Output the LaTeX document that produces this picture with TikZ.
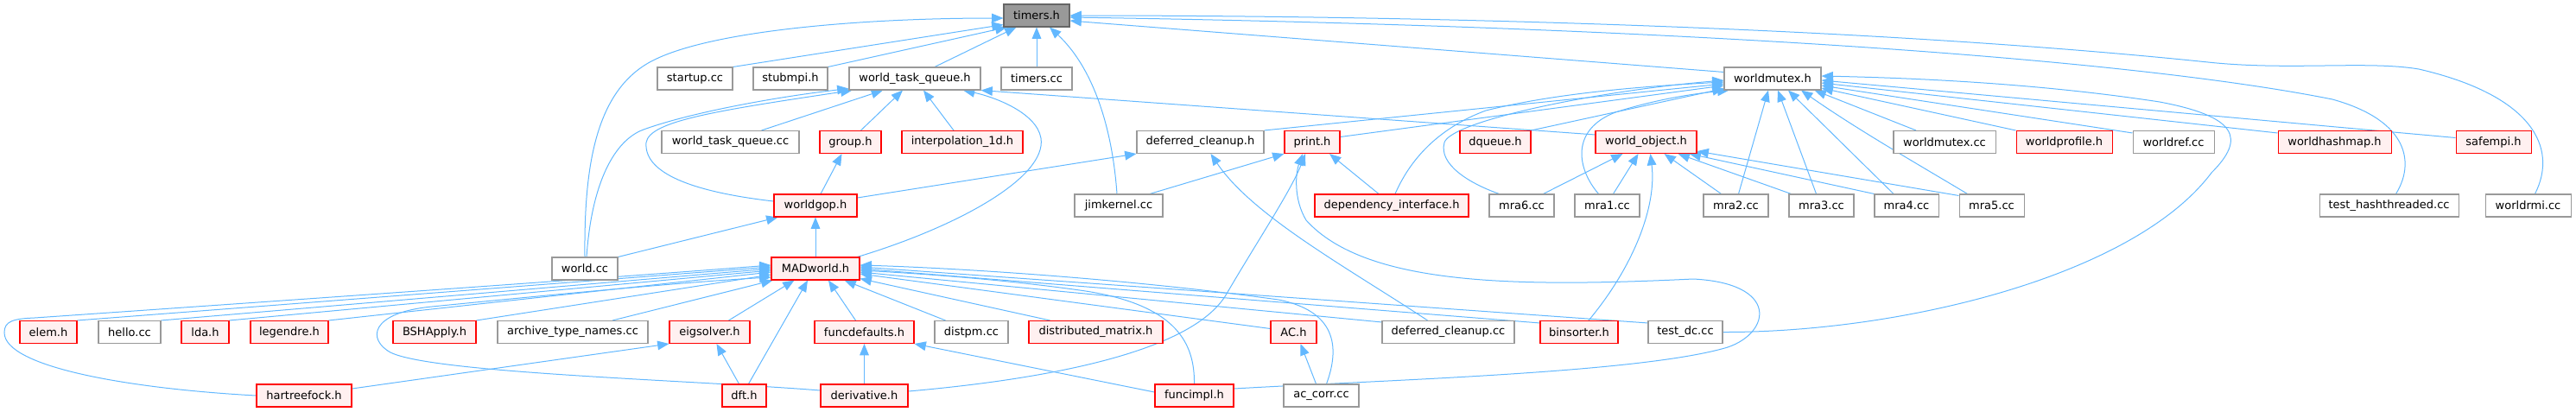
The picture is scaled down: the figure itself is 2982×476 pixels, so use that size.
\documentclass[tikz,border=0pt]{standalone}
\usepackage{fontspec}
\setmainfont{DejaVu Sans}
\usetikzlibrary{arrows.meta,calc,backgrounds}
\definecolor{edgec}{HTML}{63B8FF}
\definecolor{grayb}{HTML}{999999}
\definecolor{rootb}{HTML}{666666}
\definecolor{redfill}{HTML}{FFF0F0}
\tikzset{
  box/.style={draw=grayb, fill=white, line width=0.8pt, minimum height=19.5pt, inner sep=0pt,
    font=\fontsize{9.75}{11}\selectfont, text=black},
  rbox/.style={box, draw=red, fill=redfill},
  root/.style={box, draw=rootb, fill=grayb},
  w/.style={minimum width=#1*0.75pt},
  dep/.style={draw=edgec, line width=0.75pt, -{Triangle[length=10pt,width=8pt]}}
}
\begin{document}
\begin{tikzpicture}[x=0.75pt,y=-0.75pt]
\useasboundingbox (0,0) rectangle (2982,476);
% row 0
\node[root,w=76] (timers) at (1200,18) {timers.h};
% row 1
\node[box,w=87] (startup) at (804.5,91) {startup.cc};
\node[box,w=86] (stubmpi) at (915,91) {stubmpi.h};
\node[box,w=152] (wtqh) at (1059,91) {world\_task\_queue.h};
\node[box,w=82] (timerscc) at (1200,91) {timers.cc};
\node[box,w=112] (wmutexh) at (2052,91) {worldmutex.h};
% row 2
\node[box,w=159] (wtqcc) at (845.5,164.5) {world\_task\_queue.cc};
\node[rbox,w=71] (group) at (984.5,164.5) {group.h};
\node[rbox,w=140] (interp) at (1114,164.5) {interpolation\_1d.h};
\node[box,w=147] (defch) at (1389.5,164.5) {deferred\_cleanup.h};
\node[rbox,w=64] (print) at (1519,164.5) {print.h};
\node[rbox,w=82] (dqueue) at (1731,164.5) {dqueue.h};
\node[rbox,w=117] (wobj) at (1905.5,164.5) {world\_object.h};
\node[box,w=118] (wmutexcc) at (2251,164.5) {worldmutex.cc};
\node[rbox,w=111] (wprofile) at (2389.5,164.5) {worldprofile.h};
\node[box,w=94] (wref) at (2516,164.5) {worldref.cc};
\node[rbox,w=131] (whash) at (2702.5,164.5) {worldhashmap.h};
\node[rbox,w=87] (safempi) at (2886.5,164.5) {safempi.h};
% row 3
\node[rbox,w=96] (wgop) at (944,238) {worldgop.h};
\node[box,w=102] (jim) at (1295,238) {jimkernel.cc};
\node[rbox,w=178] (depint) at (1611,238) {dependency\_interface.h};
\node[box,w=75] (mra6) at (1761.5,238) {mra6.cc};
\node[box,w=75] (mra1) at (1860.5,238) {mra1.cc};
\node[box,w=75] (mra2) at (2009.5,238) {mra2.cc};
\node[box,w=75] (mra3) at (2108.5,238) {mra3.cc};
\node[box,w=74] (mra4) at (2207,238) {mra4.cc};
\node[box,w=75] (mra5) at (2305.5,238) {mra5.cc};
\node[box,w=161] (thash) at (2765.5,238) {test\_hashthreaded.cc};
\node[box,w=99] (wrmi) at (2926.5,238) {worldrmi.cc};
% row 4
\node[box,w=76] (worldcc) at (677,311) {world.cc};
\node[rbox,w=102] (mad) at (944,311) {MADworld.h};
% row 5
\node[rbox,w=66] (elem) at (56,384.5) {elem.h};
\node[box,w=72] (hello) at (150,384.5) {hello.cc};
\node[rbox,w=55] (lda) at (237.5,384.5) {lda.h};
\node[rbox,w=90] (legendre) at (335,384.5) {legendre.h};
\node[rbox,w=96] (bsh) at (503,384.5) {BSHApply.h};
\node[box,w=174] (archive) at (663,384.5) {archive\_type\_names.cc};
\node[rbox,w=93] (eig) at (821.5,384.5) {eigsolver.h};
\node[rbox,w=115] (fdef) at (1000.5,384.5) {funcdefaults.h};
\node[box,w=85] (distpm) at (1124.5,384.5) {distpm.cc};
\node[rbox,w=155] (distmat) at (1268.5,384.5) {distributed\_matrix.h};
\node[rbox,w=53] (ach) at (1497.5,384.5) {AC.h};
\node[box,w=153] (defcc) at (1676.5,384.5) {deferred\_cleanup.cc};
\node[rbox,w=90] (binsorter) at (1828,384.5) {binsorter.h};
\node[box,w=86] (testdc) at (1951,384.5) {test\_dc.cc};
% row 6
\node[rbox,w=110] (hartree) at (352,458) {hartreefock.h};
\node[rbox,w=51] (dft) at (861.5,458) {dft.h};
\node[rbox,w=101] (deriv) at (1000.5,458) {derivative.h};
\node[rbox,w=91] (funcimpl) at (1382.5,458) {funcimpl.h};
\node[box,w=87] (accorr) at (1529.5,458) {ac\_corr.cc};

\begin{pgfonlayer}{background}
% --- to timers.h
\draw[dep] (startup.north east) -- ($(timers.south west)+(0,-3)$);
\draw[dep] (stubmpi.north east) -- ($(timers.south west)+(4,0)$);
\draw[dep] ($(wtqh.north)+(23,0)$) -- ($(timers.south west)+(15,0)$);
\draw[dep] (timerscc) -- (timers);
\draw[dep] ($(jim.north)+(-2,0)$) .. controls (1287,140) and (1262,75) .. ($(timers.south)+(15,0)$);
\draw[dep] (worldcc.north) .. controls (676,190) and (690,100) .. (760,68) .. controls (830,35) and (1000,21) .. ($(timers.west)+(0,3)$);
\draw[dep] ($(wmutexh.north west)+(0,6)$) -- ($(timers.east)+(0,6)$);
\draw[dep] ($(thash.north)+(8,0)$) .. controls (2795,190) and (2790,140) .. (2700,115) .. controls (2450,65) and (1900,30) .. ($(timers.east)+(0,2)$);
\draw[dep] ($(wrmi.north)+(8,0)$) .. controls (2962,170) and (2930,110) .. (2800,80) .. controls (2740,70) and (2650,82) .. (2556,72) .. controls (2200,35) and (1700,18) .. (timers.east);
% --- to world_task_queue.h
\draw[dep] ($(worldcc.north)+(2,0)$) .. controls (685,210) and (712,162) .. (745,150) .. controls (800,130) and (900,112) .. ($(wtqh.south west)+(0,-2)$);
\draw[dep] ($(wgop.west)+(0,-5)$) .. controls (800,222) and (745,200) .. (748,165) .. controls (752,140) and (830,128) .. ($(wtqh.south west)+(4,0)$);
\draw[dep] ($(wtqcc.north)+(36,0)$) -- ($(wtqh.south)+(-37,0)$);
\draw[dep] ($(group.north)+(12,0)$) -- ($(wtqh.south)+(-14,0)$);
\draw[dep] ($(interp.north)+(-10,0)$) -- ($(wtqh.south)+(10,0)$);
\draw[dep] ($(mad.north east)+(-3,0)$) .. controls (1110,262) and (1212,205) .. (1205,160) .. controls (1200,130) and (1150,112) .. ($(wtqh.south)+(56,0)$);
\draw[dep] ($(wobj.north west)+(0,5)$) -- (wtqh.south east);
% --- to worldmutex.h
\draw[dep] (defch.north east) -- ($(wmutexh.west)+(0,6)$);
\draw[dep] ($(print.east)+(0,-6)$) -- ($(wmutexh.west)+(0,8)$);
\draw[dep] ($(depint.north)+(4,0)$) .. controls (1630,190) and (1660,150) .. (1720,128) .. controls (1800,108) and (1900,100) .. ($(wmutexh.west)+(0,4)$);
\draw[dep] ($(mra6.north west)+(12,0)$) .. controls (1700,212) and (1665,190) .. (1672,165) .. controls (1680,140) and (1850,105) .. ($(wmutexh.west)+(0,2)$);
\draw[dep] (dqueue.north east) -- ($(wmutexh.south west)+(0,-2)$);
\draw[dep] ($(mra1.north)+(-10,0)$) .. controls (1825,195) and (1818,150) .. (1870,130) .. controls (1920,114) and (1965,108) .. ($(wmutexh.south west)+(6,0)$);
\draw[dep] ($(mra2.north)+(3,0)$) -- ($(wmutexh.south)+(-5,0)$);
\draw[dep] ($(mra3.north)+(-6,0)$) -- ($(wmutexh.south)+(6,0)$);
\draw[dep] ($(mra4.north)+(-15,0)$) -- ($(wmutexh.south)+(18,0)$);
\draw[dep] ($(mra5.north west)+(10,0)$) .. controls (2220,190) and (2150,150) .. ($(wmutexh.south)+(33,0)$);
\draw[dep] ($(wmutexcc.north)+(-33,0)$) -- ($(wmutexh.south east)+(-8,0)$);
\draw[dep] (wprofile.north west) -- ($(wmutexh.east)+(0,11)$);
\draw[dep] ($(wref.north west)+(0,3)$) -- ($(wmutexh.east)+(0,8)$);
\draw[dep] ($(whash.north west)+(0,3)$) -- ($(wmutexh.east)+(0,5)$);
\draw[dep] ($(safempi.west)+(0,-5)$) -- ($(wmutexh.east)+(0,2)$);
\draw[dep] (testdc.east) .. controls (2200,385) and (2470,320) .. (2560,200) .. controls (2600,160) and (2590,135) .. (2500,118) .. controls (2350,95) and (2200,90) .. ($(wmutexh.east)+(0,-3)$);
% --- to world_object.h
\draw[dep] ($(mra6.north)+(25,0)$) -- ($(wobj.south)+(-27,0)$);
\draw[dep] ($(mra1.north)+(7,0)$) -- ($(wobj.south)+(-9,0)$);
\draw[dep] ($(binsorter.north)+(11,0)$) .. controls (1890,310) and (1918,240) .. ($(wobj.south)+(5,0)$);
\draw[dep] ($(mra2.north)+(-17,0)$) -- ($(wobj.south east)+(-38,0)$);
\draw[dep] ($(mra3.north west)+(3,0)$) -- ($(wobj.south east)+(-22,0)$);
\draw[dep] (mra4.north west) -- ($(wobj.south east)+(-9,0)$);
\draw[dep] ($(mra5.north west)+(0,2)$) -- ($(wobj.south east)+(0,-3)$);
% --- to print.h
\draw[dep] ($(jim.north)+(36,0)$) -- (print.south west);
\draw[dep] ($(depint.north)+(-15,0)$) -- ($(print.south)+(20,0)$);
\draw[dep] ($(deriv.east)+(0,-5)$) .. controls (1200,440) and (1380,410) .. (1420,340) .. controls (1455,280) and (1495,220) .. ($(print.south)+(-8,0)$);
\draw[dep] ($(funcimpl.east)+(0,-8)$) .. controls (1600,440) and (1900,432) .. (2000,402) .. controls (2050,385) and (2060,328) .. (1960,323) .. controls (1750,333) and (1580,330) .. (1512,255) .. controls (1497,230) and (1500,200) .. ($(print.south)+(-11,0)$);
% --- deferred_cleanup.h, group.h, worldgop.h
\draw[dep] ($(wgop.east)+(0,-9)$) -- (defch.south west);
\draw[dep] ($(defcc.north)+(-24,0)$) .. controls (1560,310) and (1450,250) .. ($(defch.south)+(12,0)$);
\draw[dep] ($(wgop.north)+(6,0)$) -- ($(group.south)+(-10,0)$);
\draw[dep] (mad) -- (wgop);
\draw[dep] (worldcc.north east) -- ($(wgop.south west)+(5,0)$);
% --- to MADworld.h
\draw[dep] (hartree.west) .. controls (150,450) and (5,425) .. (5,385) .. controls (5,372) and (15,369) .. (40,368) .. controls (300,350) and (700,322) .. ($(mad.west)+(0,-4)$);
\draw[dep] (elem.north east) -- ($(mad.west)+(0,-2)$);
\draw[dep] (hello.north east) -- (mad.west);
\draw[dep] (lda.north east) -- ($(mad.west)+(0,2)$);
\draw[dep] (legendre.north east) -- ($(mad.west)+(0,4)$);
\draw[dep] (bsh.north east) -- ($(mad.west)+(0,7)$);
\draw[dep] ($(deriv.west)+(0,-6)$) .. controls (800,440) and (500,432) .. (452,408) .. controls (425,393) and (428,362) .. (500,355) .. controls (650,340) and (800,326) .. ($(mad.west)+(0,10)$);
\draw[dep] ($(archive.north)+(46,0)$) -- ($(mad.south west)+(2,0)$);
\draw[dep] ($(eig.north)+(22,0)$) -- ($(mad.south west)+(27,0)$);
\draw[dep] ($(dft.north)+(5,0)$) -- ($(mad.south)+(-9,0)$);
\draw[dep] ($(fdef.north)+(-10,0)$) -- ($(mad.south)+(15,0)$);
\draw[dep] ($(distpm.north west)+(13,0)$) -- ($(mad.south east)+(-18,0)$);
\draw[dep] ($(distmat.north)+(-53,0)$) -- ($(mad.south east)+(0,-2)$);
\draw[dep] ($(ach.west)+(0,-4)$) -- ($(mad.east)+(0,6)$);
\draw[dep] ($(defcc.north west)+(0,2)$) -- ($(mad.east)+(0,4)$);
\draw[dep] ($(binsorter.north west)+(0,3)$) -- (mad.east);
\draw[dep] ($(testdc.north west)+(0,3)$) -- ($(mad.east)+(0,-2)$);
\draw[dep] (funcimpl.north) .. controls (1383,400) and (1365,352) .. (1250,336) .. controls (1150,322) and (1050,316) .. ($(mad.east)+(0,2)$);
\draw[dep] ($(accorr.north)+(6,0)$) .. controls (1552,400) and (1545,360) .. (1480,347) .. controls (1300,322) and (1100,310) .. ($(mad.east)+(0,-4)$);
% --- lower level
\draw[dep] ($(accorr.north)+(-6,0)$) -- ($(ach.south)+(8,0)$);
\draw[dep] ($(dft.north)+(-6,0)$) -- ($(eig.south)+(8,0)$);
\draw[dep] (deriv) -- (fdef);
\draw[dep] ($(funcimpl.west)+(0,-4)$) -- (fdef.south east);
\draw[dep] ($(hartree.east)+(0,-8)$) -- (eig.south west);
\end{pgfonlayer}
\end{tikzpicture}
\end{document}
